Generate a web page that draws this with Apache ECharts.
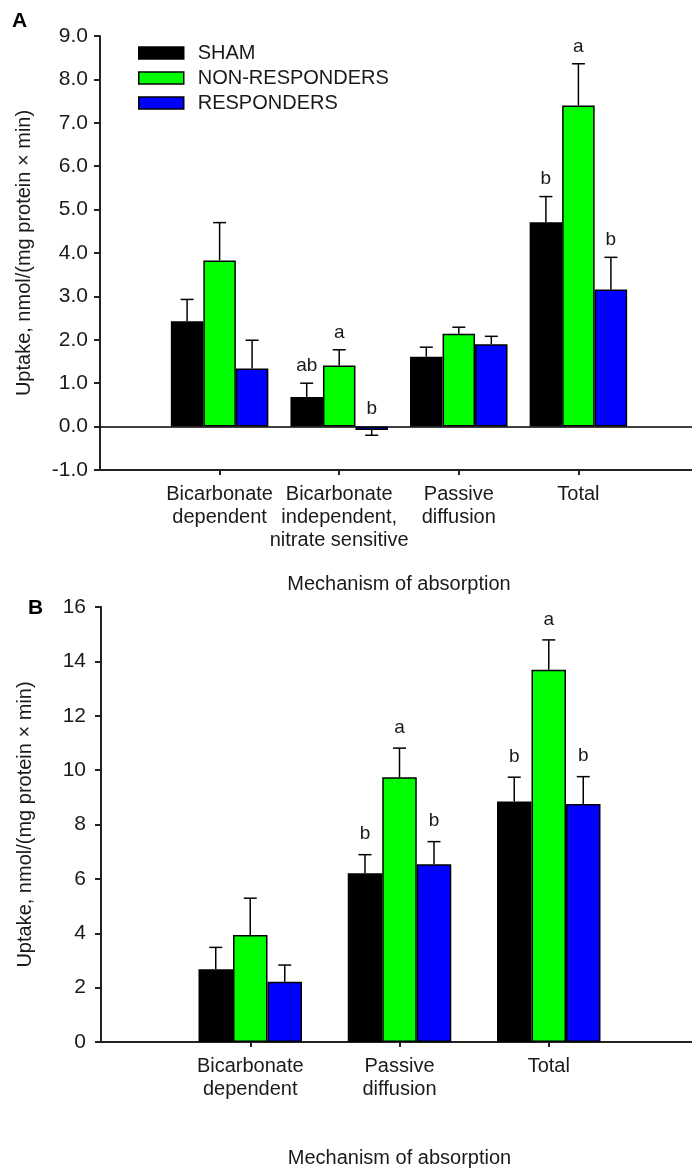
<!DOCTYPE html>
<html>
<head>
<meta charset="utf-8">
<script src="https://cdn.jsdelivr.net/npm/echarts@6/dist/echarts.min.js"></script>
<style>
html,body{margin:0;padding:0;background:#fff;}
#chart{width:692px;height:1168px;}
</style>
</head>
<body>
<div id="chart"></div>
<script>
// ---------- DATA ----------
const seriesNames = ['SHAM', 'NON-RESPONDERS', 'RESPONDERS'];

// Panel A
const catsA = ['Bicarbonate\ndependent', 'Bicarbonate\nindependent,\nnitrate sensitive', 'Passive\ndiffusion', 'Total'];
const shamA = [2.43, 0.68, 1.61, 4.71];
const shamErrA = [0.50, 0.32, 0.22, 0.59];
const nonA = [3.83, 1.41, 2.14, 7.40];
const nonErrA = [0.87, 0.36, 0.15, 0.96];
const respA = [1.34, -0.08, 1.90, 3.16];
const respErrA = [0.65, 0.12, 0.18, 0.74];
const shamLetA = ['', 'ab', '', 'b'];
const nonLetA = ['', 'a', '', 'a'];
const respLetA = ['', 'b', '', 'b'];
const ticksA = { min: -1, max: 9, interval: 1 };

// Panel B
const catsB = ['Bicarbonate\ndependent', 'Passive\ndiffusion', 'Total'];
const shamB = [2.68, 6.21, 8.85];
const shamErrB = [0.80, 0.68, 0.89];
const nonB = [3.94, 9.74, 13.69];
const nonErrB = [1.35, 1.07, 1.10];
const respB = [2.22, 6.54, 8.75];
const respErrB = [0.61, 0.83, 1.01];
const shamLetB = ['', 'b', 'b'];
const nonLetB = ['', 'a', 'a'];
const respLetB = ['', 'b', 'b'];
const ticksB = { min: 0, max: 16, interval: 2 };

const yTitle = 'Uptake, nmol/(mg protein \u00d7 min)';
const xTitle = 'Mechanism of absorption';

// ---------- STYLE ----------
const colors = ['#000000', '#00ff00', '#0000ff'];
const FONT = '"Liberation Sans", Arial, sans-serif';
const TXT = '#1a1a1a';

const chart = echarts.init(document.getElementById('chart'), null, { renderer: 'canvas' });

function pad(arr) { return [''].concat(arr).concat(['']); }
function padData(arr) { return ['-'].concat(arr).concat(['-']); }

function barSeries(gi, k, vals, barW, withZero) {
  const s = {
    type: 'bar', name: seriesNames[k], xAxisIndex: gi, yAxisIndex: gi,
    data: padData(vals), barWidth: barW, barGap: '0%',
    itemStyle: { color: colors[k], borderColor: '#000', borderWidth: 1.5 },
    emphasis: { disabled: true }, z: 2
  };
  if (withZero) {
    s.markLine = {
      silent: true, symbol: 'none', animation: false,
      data: [{ yAxis: 0 }],
      lineStyle: { color: '#000', width: 1.5, type: 'solid' },
      label: { show: false }
    };
  }
  return s;
}

function errSeries(gi, k, vals, errs, letters, barW, gap, fontSize) {
  return {
    type: 'custom', xAxisIndex: gi, yAxisIndex: gi, z: 4, silent: true,
    data: vals.map((v, i) => [i + 1, v, errs[i]]),
    renderItem: function (params, api) {
      const ci = api.value(0), v = api.value(1), e = api.value(2);
      const letter = letters[params.dataIndex];
      const base = api.coord([ci, 0]);
      const x = base[0] + (k - 1) * barW;
      const y0 = api.coord([ci, v])[1];
      const y1 = api.coord([ci, v >= 0 ? v + e : v - e])[1];
      const st = { stroke: '#000', lineWidth: 1.5 };
      const children = [
        { type: 'line', shape: { x1: x, y1: y0, x2: x, y2: y1 }, style: st },
        { type: 'line', shape: { x1: x - 6.5, y1: y1, x2: x + 6.5, y2: y1 }, style: st }
      ];
      if (letter) {
        const ly = v >= 0 ? y1 : base[1];
        children.push({
          type: 'text',
          style: {
            x: x, y: ly - gap, text: letter, fill: TXT,
            font: fontSize + 'px ' + FONT, textAlign: 'center', textVerticalAlign: 'bottom'
          }
        });
      }
      return { type: 'group', children: children };
    }
  };
}

function xAxisCfg(gi, cats, nameGap) {
  return {
    type: 'category', gridIndex: gi, data: pad(cats), boundaryGap: false,
    axisLine: { onZero: false, lineStyle: { color: '#222', width: 2 } },
    axisTick: { length: 5, lineStyle: { color: '#222', width: 2 },
      interval: function (i) { return i > 0 && i <= cats.length; } },
    axisLabel: { color: TXT, fontSize: 20, fontFamily: FONT, lineHeight: 23, margin: 13,
      interval: 0 },
    name: xTitle, nameLocation: 'middle', nameGap: nameGap,
    nameTextStyle: { color: TXT, fontSize: 20, fontFamily: FONT },
    splitLine: { show: false }
  };
}

function yAxisCfg(gi, t, decimals, margin) {
  return {
    type: 'value', gridIndex: gi, min: t.min, max: t.max, interval: t.interval,
    axisLine: { show: true, lineStyle: { color: '#222', width: 2 } },
    axisTick: { show: true, length: 6, lineStyle: { color: '#222', width: 2 } },
    axisLabel: { color: TXT, fontSize: 21, fontFamily: FONT, margin: margin,
      formatter: function (v) { return v.toFixed(decimals); } },
    splitLine: { show: false },
    name: yTitle, nameLocation: 'middle', nameGap: 66, nameRotate: 90,
    nameTextStyle: { color: TXT, fontSize: 20, fontFamily: FONT }
  };
}

const bwA = 32.5, bwB = 34.5;

const option = {
  animation: false,
  backgroundColor: '#fff',
  textStyle: { fontFamily: FONT },
  grid: [
    { left: 100, width: 598, top: 36, bottom: 698, outerBoundsMode: 'none', containLabel: false },
    { left: 101, width: 597, top: 607, bottom: 126, outerBoundsMode: 'none', containLabel: false }
  ],
  legend: {
    data: seriesNames, orient: 'vertical', left: 133, top: 38,
    itemWidth: 45, itemHeight: 12, itemGap: 5, icon: 'rect',
    itemStyle: { borderColor: '#000', borderWidth: 1.5 },
    textStyle: { color: TXT, fontSize: 20, fontFamily: FONT, lineHeight: 20, padding: [0, 0, 0, 9] },
    selectedMode: false
  },
  graphic: [
    { type: 'text', left: 12, top: 11, style: { text: 'A', font: 'bold 21px ' + FONT, fill: '#000' } },
    { type: 'text', left: 28, top: 598, style: { text: 'B', font: 'bold 21px ' + FONT, fill: '#000' } }
  ],
  xAxis: [xAxisCfg(0, catsA, 104), xAxisCfg(1, catsB, 106)],
  yAxis: [yAxisCfg(0, ticksA, 1, 12), yAxisCfg(1, ticksB, 0, 15)],
  series: [
    barSeries(0, 0, shamA, bwA, true),
    barSeries(0, 1, nonA, bwA, false),
    barSeries(0, 2, respA, bwA, false),
    errSeries(0, 0, shamA, shamErrA, shamLetA, bwA, 8, 19),
    errSeries(0, 1, nonA, nonErrA, nonLetA, bwA, 8, 19),
    errSeries(0, 2, respA, respErrA, respLetA, bwA, 8, 19),
    barSeries(1, 0, shamB, bwB, false),
    barSeries(1, 1, nonB, bwB, false),
    barSeries(1, 2, respB, bwB, false),
    errSeries(1, 0, shamB, shamErrB, shamLetB, bwB, 11, 19),
    errSeries(1, 1, nonB, nonErrB, nonLetB, bwB, 11, 19),
    errSeries(1, 2, respB, respErrB, respLetB, bwB, 11, 19)
  ]
};
chart.setOption(option);
</script>
</body>
</html>
